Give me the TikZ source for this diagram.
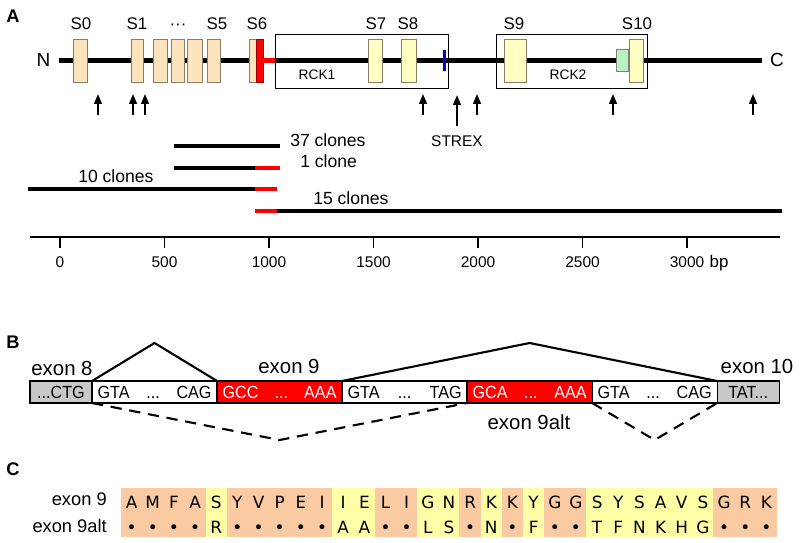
\documentclass[tikz,border=0pt]{standalone}
\usepackage{fontspec}
\setmainfont{Liberation Sans}
\newfontfamily\seqfont{DejaVu Sans}
\newfontfamily\boxfont{Liberation Sans}[FakeStretch=0.92]
\usetikzlibrary{positioning,calc,arrows.meta}
\definecolor{SegBeige}{HTML}{FCE4BC}
\definecolor{SegPale}{HTML}{FFFFC2}
\definecolor{SegEdge}{HTML}{8C7C64}
\definecolor{SegGreen}{HTML}{B8F2C0}
\definecolor{ExonGray}{HTML}{C8C8C8}
\definecolor{SeqO}{HTML}{FACBA2}
\definecolor{SeqY}{HTML}{FFFFA8}
\newcommand{\trio}[3]{\hbox to 2.85cm{#1\hfill#2\hfill#3}}

\tikzset{
  panellbl/.style={anchor=base, inner sep=0pt, font=\bfseries\fontsize{13}{14}\selectfont},
  termlbl/.style={anchor=base, inner sep=0pt, font=\fontsize{13.5}{15}\selectfont},
  seglbl/.style={anchor=base, inner sep=0pt, font=\fontsize{12}{14}\selectfont},
  domlbl/.style={anchor=base, inner sep=0pt, font=\fontsize{9.8}{11}\selectfont},
  lbl/.style={inner sep=0pt, font=\fontsize{12.5}{14}\selectfont},
  numlbl/.style={anchor=base, inner sep=0pt, font=\fontsize{11}{13}\selectfont},
  backbone/.style={line width=2.9pt},
  redlink/.style={line width=2.9pt, red},
  domainbox/.style={draw, line width=0.6pt, minimum height=1.35cm, inner sep=0pt, outer sep=0pt},
  seg/.style={draw=SegEdge, fill=SegBeige, line width=0.6pt, minimum height=1.075cm, inner sep=0pt, outer sep=0pt},
  segpale/.style={seg, fill=SegPale},
  site/.style={-{Triangle[length=7pt,width=5.5pt]}, line width=1.3pt},
  clone/.style={line width=2.6pt},
  axisline/.style={line width=1.8pt},
  tickline/.style={line width=1.4pt},
  exonbox/.style={draw, line width=0.9pt, fill=ExonGray, minimum width=1.55cm, minimum height=0.55cm,
    inner sep=0pt, outer sep=0pt, font=\boxfont\fontsize{12.5}{14}\selectfont},
  intronbox/.style={exonbox, fill=white, minimum width=3.125cm},
  codbox/.style={intronbox, fill=red, text=white},
  exonlbl/.style={anchor=base, inner sep=0pt, font=\fontsize{14.5}{16}\selectfont},
  splice/.style={line width=1.5pt},
  skip/.style={line width=1.5pt, dash pattern=on 8pt off 5.5pt},
  rescell/.style={minimum width=0.535cm, minimum height=1.225cm, inner sep=0pt, outer sep=0pt},
  resid/.style={anchor=base, inner sep=0pt, font=\seqfont\fontsize{12}{14}\selectfont},
  rowlbl/.style={anchor=base east, inner sep=0pt, font=\fontsize{13}{15}\selectfont}
}

\begin{document}
\begin{tikzpicture}[x=0.025cm, y=-0.025cm]
\useasboundingbox (0,0) rectangle (800,543);

% ---- A: channel with segments and domains
\node[panellbl] (pA) at (13,23) {A};
\node[termlbl] (nterm) at (43.5,67) {N};
\node[termlbl] (cterm) at (777,67) {C};
\coordinate (bbL) at ([xshift=5.7pt]nterm.east);
\coordinate (bbR) at ([xshift=-5.7pt]cterm.west);
\draw[backbone] (bbL) -- (bbL -| bbR);

\node[domainbox, minimum width=4.325cm] (rck1) at (361.5,61) {};
\node[domainbox, minimum width=3.775cm] (rck2) at (571.5,61) {};
\node[domlbl] (rck1lbl) at (317,80) {RCK1};
\node[domlbl] (rck2lbl) at (568,80) {RCK2};

\foreach \nm/\cx/\w in {s0/80/14, s1/137/12, s2/160/14, s3/177.5/13, s4/194.5/15, s5/213.5/13, s6/252.5/7}
  \node[seg, minimum width=\w*0.025cm] (\nm) at (\cx,60.5) {};
\node[seg, fill=red, draw=red!60!black, minimum width=0.175cm, right=0pt of s6] (s6red) {};
\draw[redlink] (s6red.east |- bbL) -- (rck1.west |- bbL);

\foreach \nm/\cx/\w in {s7/375/14, s8/408.5/15, s9/515/22, s10/636/14}
  \node[segpale, minimum width=\w*0.025cm] (\nm) at (\cx,60.5) {};
\node[fill=blue!80!black, minimum width=0.075cm, minimum height=0.525cm, inner sep=0pt] (strexbar) at (444,60.5) {};
\node[seg, fill=SegGreen, draw=gray, minimum width=0.3cm, minimum height=0.55cm] (gbox) at (622,60) {};

\foreach \t/\x in {S0/81, S1/137, S5/217, S6/257, S7/376, S8/408, S9/514, S10/637}
  \node[seglbl] (l\t) at (\x,30) {\t};
\node[seglbl] (ldots) at (178,30) {···};

\foreach \x in {98,133,145,423,477,613,753}
  \draw[site] (\x,115) -- (\x,94);
\node[seglbl, font=\fontsize{11}{13}\selectfont] (strex) at (457,147) {STREX};
\draw[site] ([yshift=7pt]strex.north) -- ++(0,-31);

% clones
\draw[clone] (174,146) -- (280,146);
\node[lbl, anchor=base west] (c37) at (290,147) {37 clones};
\draw[clone] (174,168) -- (255,168);
\draw[clone, red] (255,168) -- (280,168);
\node[lbl, anchor=base west] (c1) at (300,168) {1 clone};
\draw[clone] (28,189) -- (255,189);
\draw[clone, red] (255,189) -- (277,189);
\node[lbl, anchor=base west] (c10) at (78,183) {10 clones};
\draw[clone, red] (255,211) -- (277,211);
\draw[clone] (277,211) -- (782,211);
\node[lbl, anchor=base west] (c15) at (313,205) {15 clones};

% bp axis
\draw[axisline] (30,237) -- (780,237);
\foreach \v in {0,500,...,3000} {
  \draw[tickline] ({60+\v*0.209},237) -- ++(0,11);
  \node[numlbl] at ({60+\v*0.209},268) {\v};
}
\node[numlbl, font=\fontsize{12}{14}\selectfont] (bp) at (719,268) {bp};

% ---- B: splicing of exon 9
\node[panellbl] (pB) at (13,348) {B};
\node[exonbox] (ex8) at (61,392) {...CTG};
\node[intronbox, right=0pt of ex8] (in8) {\trio{GTA}{...}{CAG}};
\node[codbox, right=0pt of in8] (ex9) {\trio{GCC}{...}{AAA}};
\node[intronbox, right=0pt of ex9] (in9) {\trio{GTA}{...}{TAG}};
\node[codbox, right=0pt of in9] (ex9alt) {\trio{GCA}{...}{AAA}};
\node[intronbox, right=0pt of ex9alt] (in9alt) {\trio{GTA}{...}{CAG}};
\node[exonbox, right=0pt of in9alt] (ex10) {TAT...};

\node[exonlbl] (l8) at (62,375) {exon 8};
\node[exonlbl] (l9) at (289,373) {exon 9};
\node[exonlbl] (l10) at (757,373) {exon 10};
\node[exonlbl] (l9alt) at (529,429) {exon 9alt};

\draw[splice] (in8.north west) -- ($(in8.north)+(0,-38)$) -- (in8.north east);
\draw[splice] (in9.north west) -- ($(in9.north west)!0.5!(ex10.north west)+(0,-38)$) -- (ex10.north west);
\draw[skip] (in8.south west) -- ($(in8.south west)!0.5!(ex9alt.south west)+(0,37)$) -- (ex9alt.south west);
\draw[skip] (in9alt.south west) -- ($(in9alt.south west)!0.5!(ex10.south west)+(0,37)$) -- (ex10.south west);

% ---- C: residues of both exons
\node[panellbl] (pC) at (13,475) {C};
\node[rowlbl] (r9) at (107,505) {exon 9};
\node[rowlbl] (r9alt) at (107,532) {exon 9alt};
\foreach \ra/\rb/\sh [count=\i] in {A/•/O, M/•/O, F/•/O, A/•/O, S/R/Y, Y/•/O, V/•/O, P/•/O, E/•/O, I/•/O,
    I/A/Y, E/A/Y, L/•/O, I/•/O, G/L/Y, N/S/Y, R/•/O, K/N/Y, K/•/O, Y/F/Y,
    G/•/O, G/•/O, S/T/Y, Y/F/Y, S/N/Y, A/K/Y, V/H/Y, S/G/Y, G/•/O, R/•/O, K/•/O} {
  \node[rescell, fill=Seq\sh] (col\i) at ({121+21.16*(\i-0.5)},512.5) {};
  \node[resid] at ({121+21.16*(\i-0.5)},508) {\ra};
  \node[resid] at ({121+21.16*(\i-0.5)},533) {\rb};
}
\end{tikzpicture}
\end{document}
